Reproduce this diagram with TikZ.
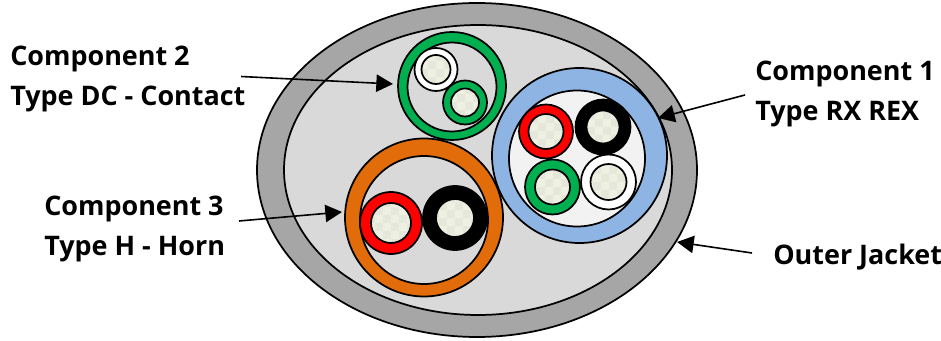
\documentclass[tikz,border=0pt]{standalone}
\usepackage{fontspec}
\setmainfont{Open Sans}
\usetikzlibrary{arrows.meta}
\definecolor{jacket}{HTML}{A6A6A6}
\definecolor{fillgray}{HTML}{D9D9D9}
\definecolor{cgreen}{HTML}{00B050}
\definecolor{cblue}{HTML}{8EB4E3}
\definecolor{corange}{HTML}{E36C0A}
\definecolor{cpale}{HTML}{F2F2F2}
\definecolor{chkA}{HTML}{EEF0E2}
\definecolor{chkB}{HTML}{E4E7DA}
\tikzset{
  shape edge/.style={draw=black,line width=1.3pt},
  label text/.style={font=\bfseries\fontsize{20.2}{29.5}\selectfont,align=left,anchor=west,inner sep=0pt,text=black},
  pointer/.style={draw=black,line width=1.2pt,-{Triangle[length=12.5pt,width=13pt]}},
}
% #1 centre, #2 outer radius, #3 colour, #4 core radius
\newcommand{\wirecore}[4]{%
  \fill[shape edge,fill=#3] #1 circle (#2);
  \begin{scope}
    \clip #1 circle (#4);
    \fill[chkA] #1 circle (#4);
    \path #1 ++(-24,-24) coordinate (chk0);
    \foreach \i in {0,...,5}{\foreach \j in {0,...,5}{%
      \pgfmathparse{int(mod(\i+\j,2))}%
      \ifnum\pgfmathresult=0
        \fill[chkB] (chk0) ++(\i*8,\j*8) rectangle ++(8,8);
      \fi}}
  \end{scope}
  \draw[black,line width=1.3pt] #1 circle (#4);
}
\begin{document}
\begin{tikzpicture}[x=0.75pt,y=-0.75pt]
\useasboundingbox (0,0) rectangle (941,341);
\fill[white] (0,0) rectangle (941,341);
% jacket
\filldraw[shape edge,fill=jacket] (477,170) ellipse [x radius=220,y radius=167];
\filldraw[shape edge,fill=fillgray] (478,170) ellipse [x radius=194,y radius=145];
% component 2
\filldraw[shape edge,fill=cgreen] (452,86) circle (54);
\filldraw[shape edge,fill=fillgray] (452,87) circle (44.5);
\wirecore{(436,69.5)}{21.5}{white}{14.5}
\wirecore{(465,102.5)}{22}{cgreen}{14}
% component 1
\filldraw[shape edge,fill=cblue] (579.5,155.5) circle (87.5);
\filldraw[shape edge,fill=cpale] (577,158.5) circle (68);
\wirecore{(546,131.5)}{27}{red}{17.5}
\wirecore{(603,127)}{27.5}{black}{16.5}
\wirecore{(552.5,187)}{27.5}{cgreen}{17.5}
\wirecore{(608.5,182)}{27.5}{white}{18}
% component 3
\filldraw[shape edge,fill=corange] (424,217.5) circle (79);
\filldraw[shape edge,fill=fillgray] (424,220) circle (64);
\wirecore{(391,223)}{31}{red}{20}
\wirecore{(455,218)}{32}{black}{19}
% labels
\node[label text] (c2) at (10,79) {Component 2\\Type DC - Contact};
\node[label text] (c3) at (44,229) {Component 3\\Type H - Horn};
\node[label text] (c1) at (755,94) {Component 1\\Type RX REX};
\node[label text] (oj) at (773,257) {Outer Jacket};
% pointers
\coordinate (t2) at (393,84);
\coordinate (t3) at (342,212);
\coordinate (t1) at (658,118);
\coordinate (tj) at (677,242);
\coordinate (s2) at (241,76.5);
\coordinate (s3) at (239,221);
\coordinate (s1) at (745,95);
\coordinate (sj) at (752,253);
\draw[pointer] (s2) -- (t2);
\draw[pointer] (s3) -- (t3);
\draw[pointer] (s1) -- (t1);
\draw[pointer] (sj) -- (tj);
\end{tikzpicture}
\end{document}
